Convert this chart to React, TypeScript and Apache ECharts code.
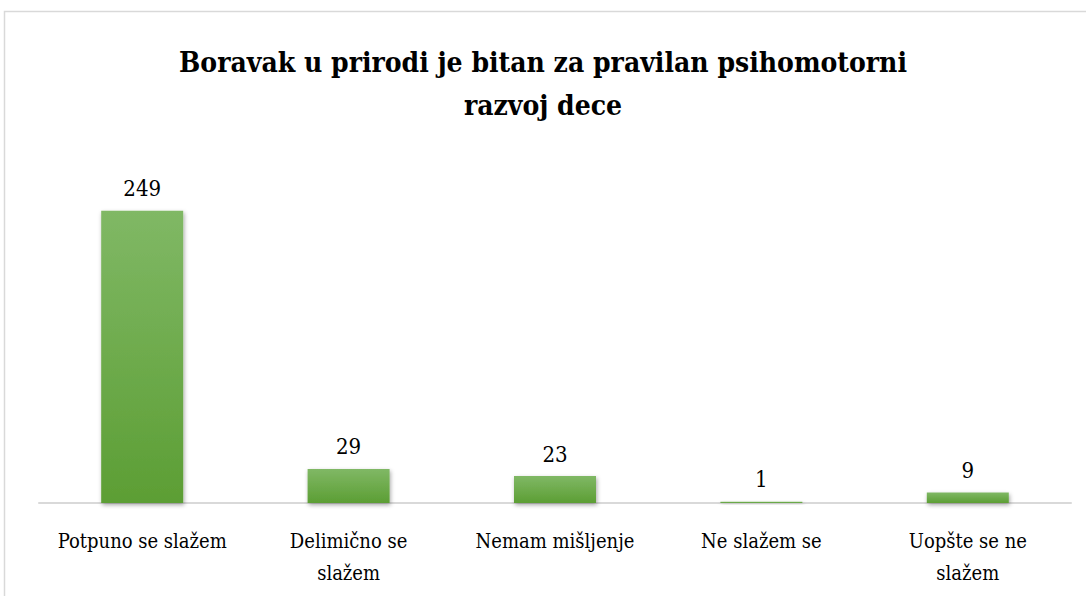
import React, { useEffect, useRef } from "react";
import * as echarts from "echarts";

const titleText = "Boravak u prirodi je bitan za pravilan psihomotorni\nrazvoj dece";
const categories = [
  "Potpuno se slažem",
  "Delimično se\nslažem",
  "Nemam mišljenje",
  "Ne slažem se",
  "Uopšte se ne\nslažem",
];
const values = [249, 29, 23, 1, 9];

const SERIF = "DejaVu Serif Condensed";

export default function App() {
  const ref = useRef<HTMLDivElement>(null);
  useEffect(() => {
    if (!ref.current) return;
    const chart = echarts.init(ref.current, undefined, { renderer: "svg" });
    chart.setOption({
      animation: false,
      backgroundColor: "#ffffff",
      title: {
        text: titleText,
        left: "center",
        top: 36,
        textStyle: {
          fontFamily: SERIF,
          fontWeight: "bold",
          fontSize: 28,
          lineHeight: 43,
          color: "#000000",
        },
      },
      graphic: [
        {
          type: "rect",
          shape: { x: 4.5, y: 11.5, width: 1100, height: 620 },
          style: { fill: "none", stroke: "#d9d9d9", lineWidth: 1.5 },
          silent: true,
        },
      ],
      grid: { left: 39, right: 15, top: 151, bottom: 93 },
      xAxis: {
        type: "category",
        data: categories,
        axisLine: { lineStyle: { color: "#d9d9d9", width: 2 } },
        axisTick: { show: false },
        axisLabel: {
          fontFamily: SERIF,
          fontSize: 20,
          lineHeight: 32,
          color: "#000000",
          margin: 22,
          interval: 0,
        },
      },
      yAxis: {
        type: "value",
        min: 0,
        max: 300,
        show: false,
        splitLine: { show: false },
      },
      series: [
        {
          type: "bar",
          data: values,
          barWidth: 82,
          itemStyle: {
            color: new echarts.graphic.LinearGradient(0, 0, 0, 1, [
              { offset: 0, color: "#80b865" },
              { offset: 1, color: "#5c9e34" },
            ]),
            shadowColor: "rgba(0,0,0,0.35)",
            shadowBlur: 4,
            shadowOffsetY: 2,
            shadowOffsetX: 1,
          },
          label: {
            show: true,
            position: "top",
            distance: 11,
            fontFamily: SERIF,
            fontSize: 22,
            color: "#000000",
          },
        },
      ],
    });
    return () => chart.dispose();
  }, []);
  return (
    <div
      ref={ref}
      style={{ position: "fixed", left: 0, top: 0, width: 1086, height: 596 }}
    />
  );
}
